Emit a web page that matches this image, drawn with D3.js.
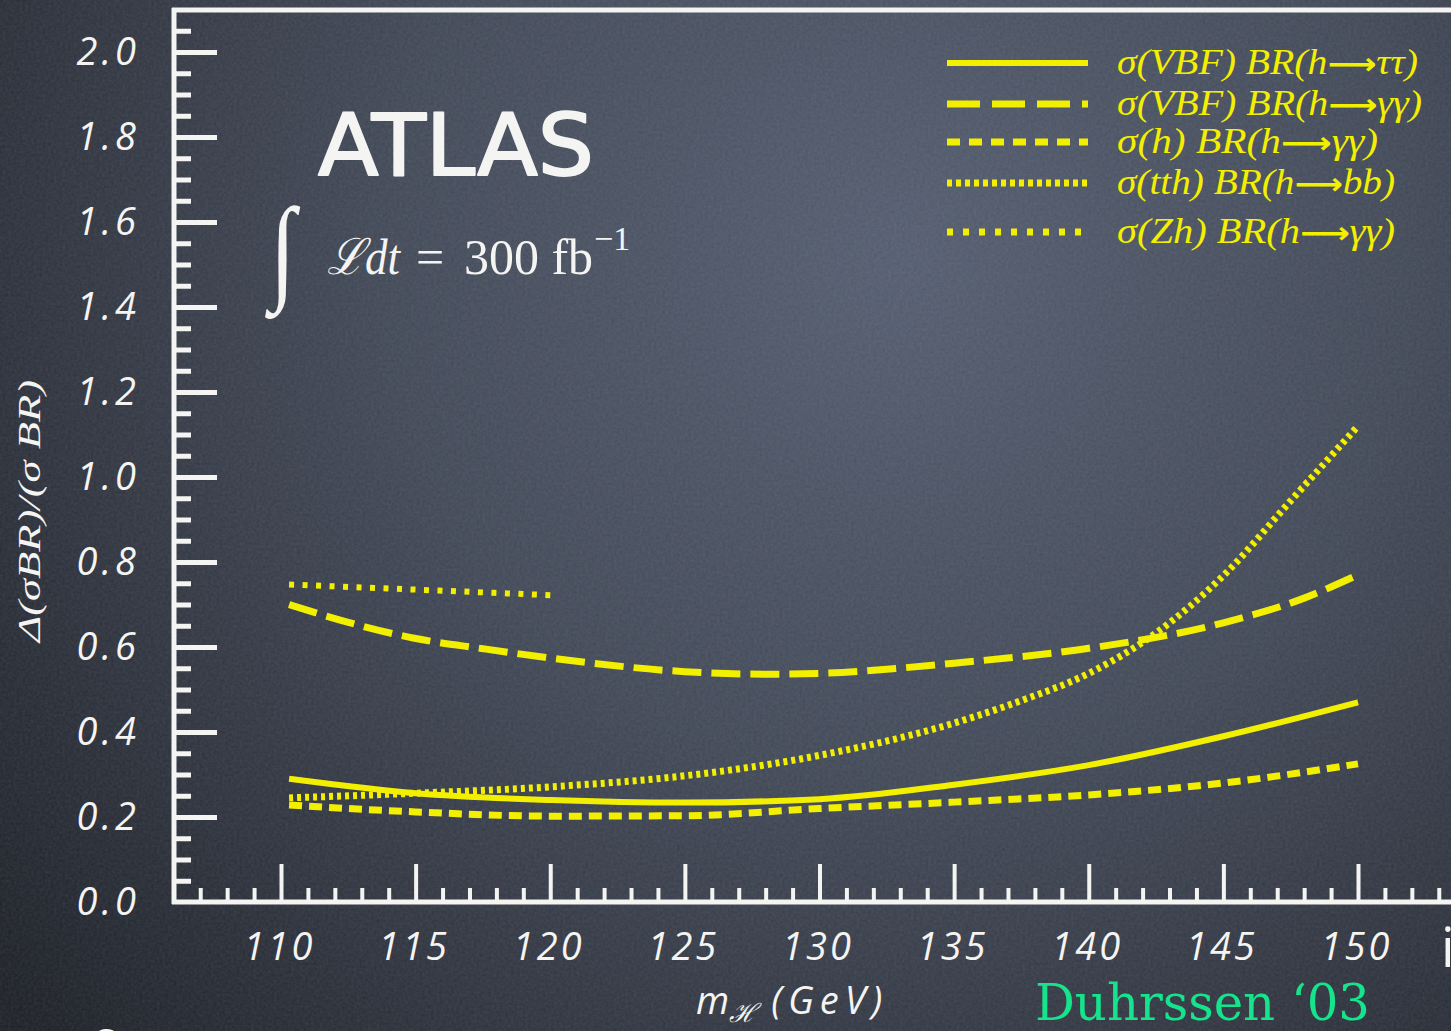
<!DOCTYPE html>
<html>
<head>
<meta charset="utf-8">
<script src="https://cdn.jsdelivr.net/npm/d3@7"></script>
<style>
  html, body { margin: 0; padding: 0; background: #2b2f38; overflow: hidden; }
  svg { display: block; }
</style>
</head>
<body>
<svg id="chart" width="1451" height="1031"></svg>
<script>
// m_H (GeV) vs relative error
const vbfTauTau = [[110.3, 0.29], [115, 0.256], [120, 0.24], [125, 0.234], [130, 0.242], [135, 0.276], [140, 0.322], [145, 0.39], [150, 0.47]];
const vbfGamGam = [[110.3, 0.70], [112.5, 0.658], [115, 0.62], [117.5, 0.596], [120, 0.574], [125, 0.542], [128, 0.536], [130, 0.538], [135, 0.562], [140, 0.597], [145, 0.657], [148, 0.715], [150, 0.77]];
const inclGamGam = [[110.3, 0.228], [115, 0.212], [120, 0.202], [125, 0.203], [130, 0.22], [135, 0.235], [140, 0.252], [145, 0.28], [150, 0.325]];
const tthBB = [[110.3, 0.245], [115, 0.256], [120, 0.271], [125, 0.297], [130, 0.345], [135, 0.421], [137.5, 0.474], [140, 0.538], [142.5, 0.633], [145, 0.768], [147.5, 0.944], [150, 1.12]];
const zhGamGam = [[110.3, 0.747], [115, 0.735], [120, 0.722]];

const legendLabels = [
    ['σ(VBF) BR(h', 'ττ)'],
    ['σ(VBF) BR(h', 'γγ)'],
    ['σ(h) BR(h', 'γγ)'],
    ['σ(tth) BR(h', 'bb)'],
    ['σ(Zh) BR(h', 'γγ)']
];
const xMajorTicks = [110, 115, 120, 125, 130, 135, 140, 145, 150];
const yMajorTicks = [0, 0.2, 0.4, 0.6, 0.8, 1.0, 1.2, 1.4, 1.6, 1.8, 2.0];

const yellow = '#f3ef00';
const chalk = '#f4f4f2';

const svg = d3.select('#chart');

// chalkboard background
const defs = svg.append('defs');
const grad = defs.append('radialGradient')
    .attr('id', 'board')
    .attr('gradientUnits', 'userSpaceOnUse')
    .attr('cx', 900).attr('cy', 260).attr('r', 1150);
grad.append('stop').attr('offset', '0%').attr('stop-color', '#535c6e');
grad.append('stop').attr('offset', '45%').attr('stop-color', '#404755');
grad.append('stop').attr('offset', '100%').attr('stop-color', '#1c1f26');

const noise = defs.append('filter').attr('id', 'grain').attr('x', 0).attr('y', 0).attr('width', '100%').attr('height', '100%');
noise.append('feTurbulence').attr('type', 'fractalNoise').attr('baseFrequency', 0.35).attr('numOctaves', 2).attr('seed', 4);
noise.append('feColorMatrix').attr('type', 'matrix')
    .attr('values', '0 0 0 0 0.8  0 0 0 0 0.82  0 0 0 0 0.9  0 0 0 0.18 0');

svg.append('rect').attr('width', 1451).attr('height', 1031).attr('fill', 'url(#board)');
svg.append('rect').attr('width', 1451).attr('height', 1031).attr('filter', 'url(#grain)').attr('opacity', 0.6);

const x = d3.scaleLinear().domain([110, 150]).range([281, 1358]);
const y = d3.scaleLinear().domain([0, 2]).range([902, 52]);

// frame
const frame = svg.append('g').attr('stroke', chalk).attr('stroke-width', 5).attr('fill', 'none');
frame.append('line').attr('x1', 172).attr('x2', 1451).attr('y1', 10).attr('y2', 10);
frame.append('line').attr('x1', 174).attr('x2', 174).attr('y1', 8).attr('y2', 904);
frame.append('line').attr('x1', 172).attr('x2', 1451).attr('y1', y(0)).attr('y2', y(0));

// x axis
const xMinor = d3.range(107, 154).filter(d => d % 5 !== 0);
const xMinorAxis = svg.append('g')
    .attr('transform', `translate(0,${y(0)})`)
    .call(d3.axisBottom(x).tickValues(xMinor).tickSizeInner(-14).tickSizeOuter(0).tickFormat(''));
const xAxis = svg.append('g')
    .attr('transform', `translate(0,${y(0)})`)
    .call(d3.axisBottom(x).tickValues(xMajorTicks).tickSizeInner(-38).tickSizeOuter(0).tickPadding(31));
[xMinorAxis, xAxis].forEach(g => {
    g.select('.domain').remove();
    g.selectAll('.tick line').attr('stroke', chalk).attr('stroke-width', 4);
});
xAxis.selectAll('.tick text')
    .attr('fill', chalk)
    .attr('font-family', '"Open Sans", sans-serif')
    .attr('font-style', 'italic')
    .attr('font-size', 38)
    .attr('letter-spacing', 3)
    .attr('dx', -2);

// y axis
const yMinor = d3.range(1, 42).map(d => d * 0.05).filter((d, i) => (i + 1) % 4 !== 0);
const yMinorAxis = svg.append('g')
    .attr('transform', 'translate(174,0)')
    .call(d3.axisLeft(y).tickValues(yMinor).tickSizeInner(-17).tickSizeOuter(0).tickFormat(''));
const yAxis = svg.append('g')
    .attr('transform', 'translate(174,0)')
    .call(d3.axisLeft(y).tickValues(yMajorTicks).tickSizeInner(-43).tickSizeOuter(0).tickPadding(34).tickFormat(d3.format('.1f')));
[yMinorAxis, yAxis].forEach(g => {
    g.select('.domain').remove();
    g.selectAll('.tick line').attr('stroke', chalk).attr('stroke-width', 5);
});
yAxis.selectAll('.tick').filter(d => d === 0).select('line').remove();
yAxis.selectAll('.tick text')
    .attr('fill', chalk)
    .attr('font-family', '"Open Sans", sans-serif')
    .attr('font-style', 'italic')
    .attr('font-size', 38)
    .attr('letter-spacing', 4);

// curves
const line = d3.line().x(d => x(d[0])).y(d => y(d[1])).curve(d3.curveMonotoneX);
const series = [
    { data: vbfTauTau, width: 6, dash: null },
    { data: vbfGamGam, width: 7, dash: '29,10' },
    { data: inclGamGam, width: 7, dash: '13,7' },
    { data: tthBB, width: 7, dash: '4,4' },
    { data: zhGamGam, width: 6, dash: '5,8.5' }
];
svg.append('g').selectAll('path')
    .data(series)
    .join('path')
    .attr('d', d => line(d.data))
    .attr('fill', 'none')
    .attr('stroke', yellow)
    .attr('stroke-width', d => d.width)
    .attr('stroke-dasharray', d => d.dash);

// legend
const legendY = [63, 104, 142, 183, 232];
const legendW = [301, 305, 261, 278, 278];
const legendDash = [null, '33,12', '13,9', '5,4', '6,10'];
const legend = svg.append('g');
legendLabels.forEach((lab, i) => {
    legend.append('line')
        .attr('x1', 947).attr('x2', 1088)
        .attr('y1', legendY[i]).attr('y2', legendY[i])
        .attr('stroke', yellow)
        .attr('stroke-width', i === 0 ? 6 : 7)
        .attr('stroke-dasharray', legendDash[i]);
    const t = legend.append('text')
        .attr('x', 1117).attr('y', legendY[i] + 11)
        .attr('fill', yellow)
        .attr('font-family', '"Liberation Serif", serif')
        .attr('font-style', 'italic')
        .attr('font-size', 35)
        .attr('textLength', legendW[i])
        .attr('lengthAdjust', 'spacingAndGlyphs');
    t.append('tspan').text(lab[0]);
    t.append('tspan').attr('font-family', '"DejaVu Sans", sans-serif').attr('font-style', 'normal')
        .attr('font-weight', 'bold').attr('font-size', 30).text('⟶');
    t.append('tspan').text(lab[1]);
});

// ATLAS + luminosity
svg.append('text')
    .attr('x', 318).attr('y', 175)
    .attr('fill', chalk).attr('stroke', chalk).attr('stroke-width', 2).attr('stroke-linejoin', 'round')
    .attr('font-family', '"DejaVu Sans", sans-serif')
    .attr('font-size', 86)
    .attr('textLength', 276)
    .attr('lengthAdjust', 'spacingAndGlyphs')
    .text('ATLAS');

const lumi = svg.append('g').attr('fill', chalk).attr('font-family', '"Liberation Serif", "DejaVu Serif", serif');
lumi.append('text').attr('x', 270).attr('y', 288).attr('font-size', 116)
    .attr('transform', 'translate(270,0) scale(0.8,1) translate(-270,0)').text('∫');
lumi.append('text').attr('x', 327).attr('y', 274).attr('font-size', 50).attr('font-style', 'italic')
    .attr('textLength', 73).attr('lengthAdjust', 'spacingAndGlyphs').text('ℒdt');
lumi.append('text').attr('x', 416).attr('y', 274).attr('font-size', 50).text('=');
lumi.append('text').attr('x', 464).attr('y', 274).attr('font-size', 50)
    .attr('textLength', 129).attr('lengthAdjust', 'spacingAndGlyphs').text('300 fb');
lumi.append('text').attr('x', 594).attr('y', 250).attr('font-size', 34).text('−1');

// axis titles
svg.append('text')
    .attr('transform', 'translate(40,511) rotate(-90)')
    .attr('text-anchor', 'middle')
    .attr('fill', chalk)
    .attr('font-family', '"Liberation Serif", serif')
    .attr('font-style', 'italic')
    .attr('font-size', 32)
    .attr('textLength', 262)
    .attr('lengthAdjust', 'spacingAndGlyphs')
    .text('Δ(σBR)/(σ BR)');

const xTitle = svg.append('text')
    .attr('x', 696).attr('y', 1014)
    .attr('fill', chalk)
    .attr('font-family', '"Open Sans", sans-serif')
    .attr('font-style', 'italic')
    .attr('font-size', 38);
xTitle.append('tspan').text('m');
xTitle.append('tspan').attr('font-size', 26).attr('dy', 8).attr('font-family', '"DejaVu Serif", serif').text('ℋ');
xTitle.append('tspan').attr('dy', -8).attr('dx', 14).attr('letter-spacing', 6).text('(GeV)');

svg.append('text')
    .attr('x', 1035).attr('y', 1020)
    .attr('fill', '#16e48c')
    .attr('font-family', '"DejaVu Serif Condensed", "DejaVu Serif", serif')
    .attr('font-size', 50)
    .attr('textLength', 335)
    .attr('lengthAdjust', 'spacingAndGlyphs')
    .text('Duhrssen ‘03');

// bits of neighbouring slide text cut by the frame
svg.append('text').attr('x', 1441).attr('y', 967).attr('fill', chalk)
    .attr('font-family', '"Open Sans", sans-serif').attr('font-size', 54).text('i');
svg.append('text').attr('x', 88).attr('y', 1058).attr('fill', chalk)
    .attr('font-family', '"Open Sans", sans-serif').attr('font-style', 'italic').attr('font-size', 40).text('C');
</script>
</body>
</html>
